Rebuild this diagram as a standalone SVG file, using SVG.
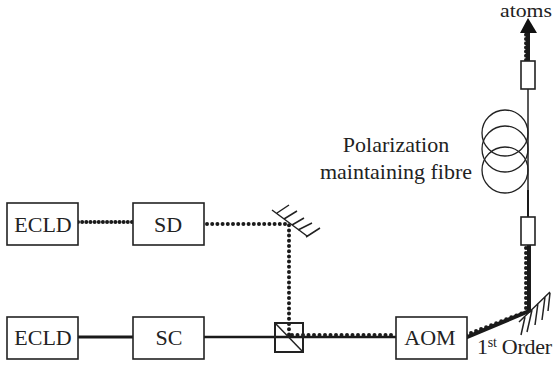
<svg xmlns="http://www.w3.org/2000/svg" width="554" height="367" viewBox="0 0 554 367">
<defs><style>
.b{fill:#fff;stroke:#222;stroke-width:1.6}
.t{font-family:"Liberation Serif","Times New Roman",serif;font-size:22px;fill:#222}
.m{text-anchor:middle}
.s{fill:none;stroke:#222;stroke-width:1.5}
.th{fill:none;stroke:#1a1a1a;stroke-width:3}
.d{fill:none;stroke:#1a1a1a;stroke-width:4;stroke-linecap:round;stroke-dasharray:0 5.2}
.c{fill:none;stroke:#222;stroke-width:1.3}
</style></defs>
<g id="connectors">
<path class="th" d="M78 337H134"/>
<path class="th" style="stroke-width:2.5" d="M204 337H396"/>
<path class="d" style="stroke-dasharray:0 4.15" d="M78 222H136"/>
<path class="d" d="M207 224H289V335"/>
<path class="d" style="stroke-dasharray:0 5.5" d="M292 335H396"/>
<path class="th" style="stroke-width:4" d="M465 338L529 311V245"/>
<path class="d" style="stroke-dasharray:0 5.4" d="M466 335L525 312"/>
<path class="d" style="stroke-dasharray:0 5" d="M526 308V247"/>
<path class="s" d="M528 89V210"/>
<path class="th" style="stroke-width:2" d="M528 190V217"/>
<path class="th" style="stroke-width:4" d="M528 61V30"/>
<path class="d" style="stroke-dasharray:0 4.2" d="M526 60V34"/>
<polygon points="528,18 520,33 537,33" fill="#111"/>
</g>
<g id="ecld1"><rect class="b" x="7" y="203" width="71" height="42"/><text class="t m" x="43" y="232">ECLD</text></g>
<g id="sd"><rect class="b" x="133" y="203" width="71" height="42"/><text class="t m" x="168" y="232">SD</text></g>
<g id="ecld2"><rect class="b" x="7" y="317" width="71" height="42"/><text class="t m" x="43" y="345">ECLD</text></g>
<g id="sc"><rect class="b" x="133" y="317" width="71" height="42"/><text class="t m" x="169" y="345">SC</text></g>
<g id="aom"><rect class="b" x="396" y="317" width="71" height="42"/><text class="t m" x="430" y="345">AOM</text></g>
<g id="cube"><rect class="s" style="stroke-width:2" x="275" y="323" width="28" height="29"/><path class="s" d="M275 323L303 352"/></g>
<g id="mirror1"><path class="s" d="M272 210L307 236M277 213L289 205M284 219L297 211M292 225L304 218M298 230L312 223M306 237L320 228"/></g>
<g id="mirror2"><path class="s" d="M519 322L550 292M525 317L521 335M532 310L527 332M538 303L535 325M545 297L542 320M550 293L548 311"/></g>
<g id="coupler1"><rect class="b" x="521" y="217" width="14" height="28"/></g>
<g id="coupler2"><rect class="b" x="521" y="61" width="14" height="28"/></g>
<g id="fibre"><circle class="c" cx="505" cy="133" r="23"/><circle class="c" cx="505" cy="149" r="23"/><circle class="c" cx="505" cy="170" r="23"/></g>
<g id="labels">
<text class="t m" x="396" y="152">Polarization</text>
<text class="t m" x="396" y="179">maintaining fibre</text>
<text class="t" style="font-size:18.5px" x="500" y="16.5" textLength="52" lengthAdjust="spacingAndGlyphs">atoms</text>
<text class="t" x="477" y="354" textLength="75">1<tspan font-size="14" dy="-7">st</tspan><tspan dy="7"> Order</tspan></text>
</g>
</svg>
